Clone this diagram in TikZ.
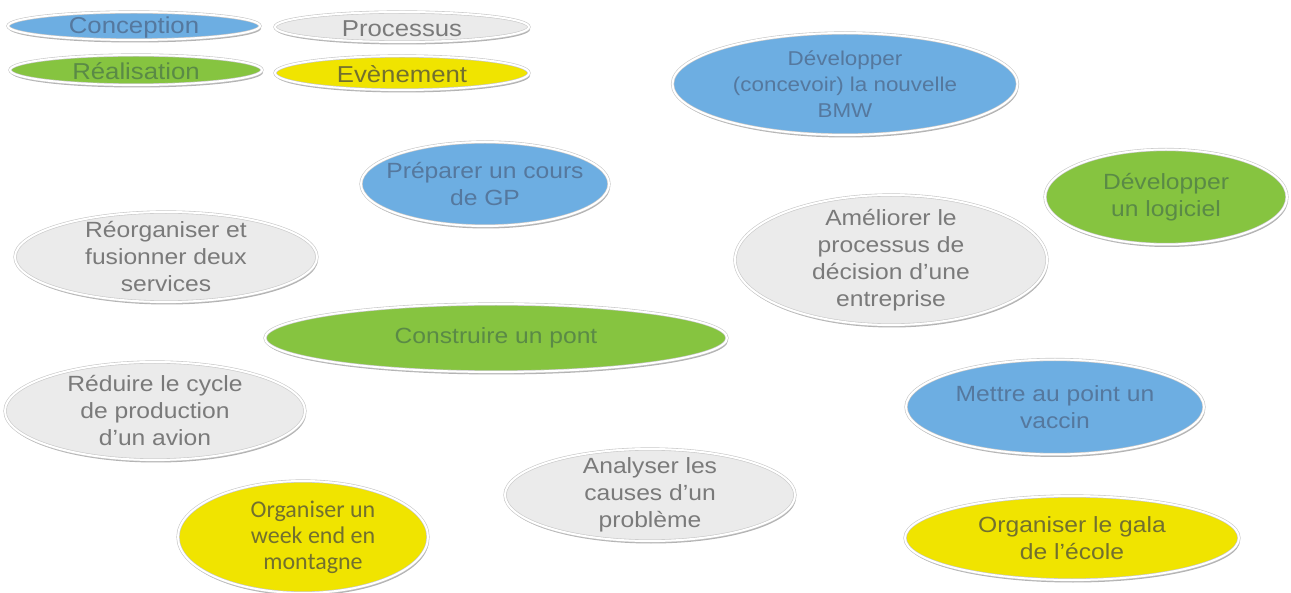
\documentclass[tikz,border=0pt]{standalone}
\usepackage{fontspec}
\setmainfont{Liberation Sans}[FakeStretch=1.12]
\newfontfamily\calib{Carlito}
\usetikzlibrary{shapes.geometric,shadows}
\definecolor{cblue}{HTML}{6DAEE2}
\definecolor{tblue}{HTML}{55789E}
\definecolor{cgray}{HTML}{EBEBEB}
\definecolor{tgray}{HTML}{7A7A7A}
\definecolor{cgreen}{HTML}{86C440}
\definecolor{tgreen}{HTML}{5A8A46}
\definecolor{cyell}{HTML}{F0E400}
\definecolor{tyell}{HTML}{72702E}
\definecolor{rim}{HTML}{C8C8C8}
\tikzset{
  oval/.style={ellipse, draw=rim, double=white, double distance=2pt, line width=0.6pt,
    inner sep=0pt,
    drop shadow={shadow xshift=1pt, shadow yshift=-2.5pt, opacity=0.3, fill=black}},
  txt/.style={inner sep=0pt, align=center, font=\fontsize{22}{27}\selectfont},
  conc/.style={oval, fill=cblue},
  proc/.style={oval, fill=cgray},
  real/.style={oval, fill=cgreen},
  even/.style={oval, fill=cyell},
  tconc/.style={txt, text=tblue},
  tproc/.style={txt, text=tgray},
  treal/.style={txt, text=tgreen},
  teven/.style={txt, text=tyell},
  sz/.style 2 args={minimum width=#1pt, minimum height=#2pt},
}
\begin{document}
\begin{tikzpicture}[x=1pt,y=-1pt]
\useasboundingbox[fill=white] (0,0) rectangle (1291,593);
% legend
\node[conc, sz={252}{28}] (lconc) at (134,26) {};
\node[tconc, font=\fontsize{23}{27}\selectfont] (lconct) at ([yshift=-1.5pt]lconc.center) {Conception};
\node[proc, sz={254}{30}] (lproc) at (402,27) {};
\node[tproc, font=\fontsize{23}{27}\selectfont] (lproct) at ([yshift=-1.5pt]lproc.center) {Processus};
\node[real, sz={252}{30}] (lreal) at (136,70) {};
\node[treal, font=\fontsize{23}{27}\selectfont] (lrealt) at ([yshift=-1pt]lreal.center) {Réalisation};
\node[even, sz={254}{34}] (leven) at (402,73) {};
\node[teven, font=\fontsize{23}{27}\selectfont] (levent) at ([yshift=-1pt]leven.center) {Evènement};
% items
\node[conc, sz={345}{102}] (bmw) at (845,84) {};
\node[tconc, font=\fontsize{20}{26}\selectfont] (bmwt) at (bmw) {Développer\\(concevoir) la nouvelle\\BMW};
\node[conc, sz={248}{84}] (prep) at (485,184) {};
\node[tconc] (prept) at (prep) {Préparer un cours\\de GP};
\node[real, sz={242}{95}] (logi) at (1166,197) {};
\node[treal] (logit) at (logi) {Développer\\un logiciel};
\node[proc, sz={302}{90}] (reorg) at (166,257) {};
\node[tproc] (reorgt) at (reorg) {Réorganiser et\\fusionner deux\\services};
\node[proc, sz={312}{130}] (amel) at (891,260) {};
\node[tproc] (amelt) at (amel) {Améliorer le\\processus de\\décision d’une\\entreprise};
\node[real, sz={462}{68}] (pont) at (496,338) {};
\node[treal] (pontt) at (pont) {Construire un pont};
\node[proc, sz={300}{98}] (redu) at (155,411) {};
\node[tproc] (redut) at (redu) {Réduire le cycle\\de production\\d'un avion};
\node[conc, sz={298}{95}] (vacc) at (1055,407) {};
\node[tconc] (vacct) at (vacc) {Mettre au point un\\vaccin};
\node[proc, sz={290}{92}] (anal) at (650,495) {};
\node[tproc] (analt) at (anal) {Analyser les\\causes d'un\\problème};
\node[even, sz={250}{112}] (week) at (303,537) {};
\node[teven, font=\calib\fontsize{24}{26}\selectfont] (weekt) at ([xshift=10pt]week.center) {Organiser un\\week end en\\montagne};
\node[even, sz={334}{84}] (gala) at (1072,538) {};
\node[teven] (galat) at (gala) {Organiser le gala\\de l’école};
\end{tikzpicture}
\end{document}
